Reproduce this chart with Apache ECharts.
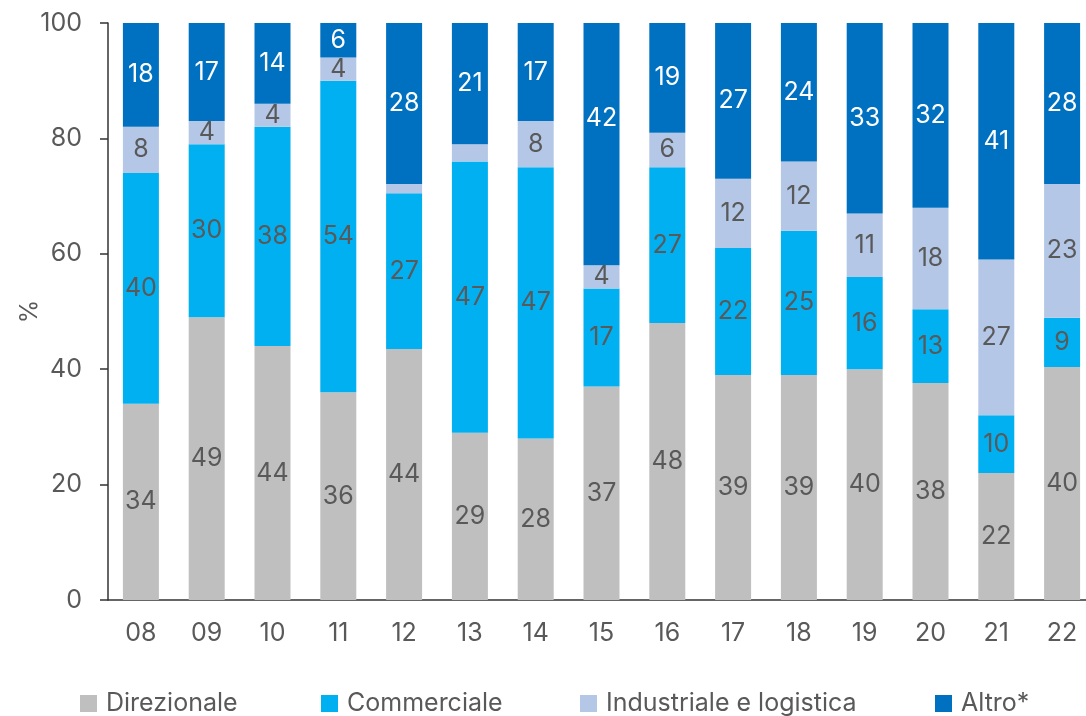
<!DOCTYPE html>
<html>
<head>
<meta charset="utf-8">
<script src="https://cdn.jsdelivr.net/npm/echarts@6/dist/echarts.min.js"></script>
<style>
  html, body { margin: 0; padding: 0; background: #fff; }
  #chart { width: 1086px; height: 716px; }
</style>
</head>
<body>
<div id="chart"></div>
<script>
// Data (quote %)
const years = ['08', '09', '10', '11', '12', '13', '14', '15', '16', '17', '18', '19', '20', '21', '22'];
const direzionale = [34, 49, 44, 36, 43.5, 29, 28, 37, 48, 39, 39, 40, 37.6, 22, 40.4];
const commerciale = [40, 30, 38, 54, 27, 47, 47, 17, 27, 22, 25, 16, 12.8, 10, 8.5];
const industriale = [8, 4, 4, 4, 1.6, 3, 8, 4, 6, 12, 12, 11, 17.6, 27, 23.2];
const altro = [18, 17, 14, 6, 27.9, 21, 17, 42, 19, 27, 24, 33, 32, 41, 27.9];
const seriesNames = ['Direzionale', 'Commerciale', 'Industriale e logistica', 'Altro*'];

const TEXT = '#595959';
const FONT = 'Inter, "Noto Sans", sans-serif';
const FS = 25;

function makeSeries(name, values, color, labelColor) {
    return {
        name: name,
        type: 'bar',
        stack: 'tot',
        barWidth: 36,
        itemStyle: { color: color },
        label: {
            show: true,
            position: 'inside',
            color: labelColor,
            fontSize: FS,
            fontFamily: FONT,
            formatter: p => (p.value < 3.5 ? '' : Math.round(p.value))
        },
        data: values.map((v, i) => {
            // label in the 15 "Altro" segment sits higher than centre
            if (name === 'Altro*' && years[i] === '15') {
                return { value: v, label: { offset: [0, -26] } };
            }
            return v;
        })
    };
}

// one legend per entry, so each sits where the reference puts it
const legendLeft = [80, 321, 580, 935];
const legends = seriesNames.map((n, i) => ({
    left: legendLeft[i],
    top: 691,
    padding: 0,
    itemWidth: 17,
    itemHeight: 17,
    icon: 'rect',
    textStyle: { fontSize: FS, color: TEXT, fontFamily: FONT, padding: [0, 0, 0, 4] },
    data: [n]
}));

const chart = echarts.init(document.getElementById('chart'));

chart.setOption({
    animation: false,
    textStyle: { fontFamily: FONT },
    grid: { left: 108, top: 23, bottom: 116, width: 987, outerBoundsMode: 'none' },
    legend: legends,
    xAxis: {
        type: 'category',
        data: years,
        axisLine: { lineStyle: { color: '#333', width: 1.5 } },
        axisTick: { length: 8, lineStyle: { color: '#333', width: 1.5 } },
        axisLabel: { fontSize: FS, color: TEXT, margin: 21 }
    },
    yAxis: {
        type: 'value',
        min: 0,
        max: 100,
        interval: 20,
        name: '%',
        nameLocation: 'middle',
        nameRotate: 90,
        nameGap: 66,
        nameMoveOverlap: false,
        nameTextStyle: { fontSize: 24, color: TEXT },
        splitLine: { show: false },
        axisLine: { show: true, lineStyle: { color: '#333', width: 1.5 } },
        axisTick: { show: true, length: 8, lineStyle: { color: '#333', width: 1.5 } },
        axisLabel: { fontSize: FS, color: TEXT, margin: 26 }
    },
    series: [
        makeSeries(seriesNames[0], direzionale, '#bfbfbf', TEXT),
        makeSeries(seriesNames[1], commerciale, '#00b0f0', TEXT),
        makeSeries(seriesNames[2], industriale, '#b4c7e7', TEXT),
        makeSeries(seriesNames[3], altro, '#0070c0', '#fff')
    ]
});
</script>
</body>
</html>
